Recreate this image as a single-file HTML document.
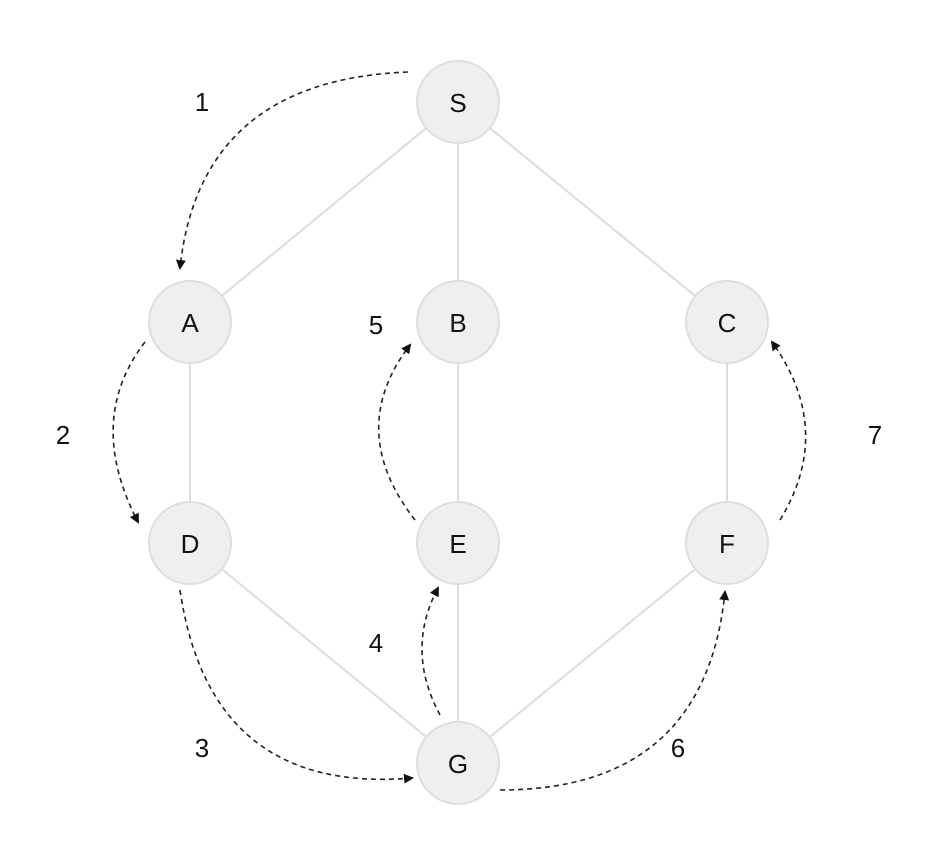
<!DOCTYPE html>
<html><head><meta charset="utf-8"><style>
html,body{margin:0;padding:0;background:#fff;}
svg{display:block;font-family:"Liberation Sans","DejaVu Sans",sans-serif;}
</style></head><body>
<svg id="g" width="936" height="850" viewBox="0 0 936 850">
<defs><marker id="ah" markerWidth="10" markerHeight="10" refX="8" refY="5" orient="auto" markerUnits="userSpaceOnUse"><path d="M0,0 L10,5 L0,10 z" fill="#111"/></marker></defs>
<g id="edges"></g><g id="arrows"></g><g id="nodes"></g><g id="labels"></g>
</svg>
<script>
const nodeNames = ["S","A","B","C","D","E","F","G"];
const nodeX = [458,190,458,727,190,458,727,458];
const nodeY = [102,322,322,322,543,543,543,763];
const edges = [["S","A"],["S","B"],["S","C"],["A","D"],["B","E"],["C","F"],["D","G"],["E","G"],["F","G"]];
const stepLabels = ["1","2","3","4","5","6","7"];
const stepPaths = ["M408,72 Q200,80 180,268","M145,342 Q85,420 138,522","M180,590 Q210,795 412,778","M440,715 Q405,650 438,588","M415,520 Q345,430 410,345","M500,790 Q705,790 725,592","M780,520 Q835,430 772,342"];
const stepLabelX = [202,63,202,376,376,678,875];
const stepLabelY = [102,435,748,643,325,748,435];
const NS="http://www.w3.org/2000/svg";
function mk(t,a,p){const e=document.createElementNS(NS,t);for(const k in a)e.setAttribute(k,a[k]);p.appendChild(e);return e;}
const idx=n=>nodeNames.indexOf(n);
const ge=document.getElementById("edges"),ga=document.getElementById("arrows"),gn=document.getElementById("nodes"),gl=document.getElementById("labels");
edges.forEach(([a,b])=>{const l=mk("line",{x1:nodeX[idx(a)],y1:nodeY[idx(a)],x2:nodeX[idx(b)],y2:nodeY[idx(b)],stroke:"#dcdcdc","stroke-width":2},ge);

});
stepPaths.forEach((d,i)=>{const p=mk("path",{d:d,fill:"none",stroke:"#222","stroke-width":1.6,"stroke-dasharray":"5,4","marker-end":"url(#ah)"},ga);


const t=mk("text",{x:stepLabelX[i],y:stepLabelY[i],"font-size":26,"text-anchor":"middle","dominant-baseline":"central",fill:"#111"},gl);t.textContent=stepLabels[i];

});
nodeNames.forEach((n,i)=>{const g=mk("g",{},gn);


mk("circle",{cx:nodeX[i],cy:nodeY[i],r:41,fill:"#efefef",stroke:"#dedede","stroke-width":2},g);
const t=mk("text",{x:nodeX[i],y:nodeY[i]+1,"font-size":26,"text-anchor":"middle","dominant-baseline":"central",fill:"#111"},g);t.textContent=n;});
</script>
</body></html>
